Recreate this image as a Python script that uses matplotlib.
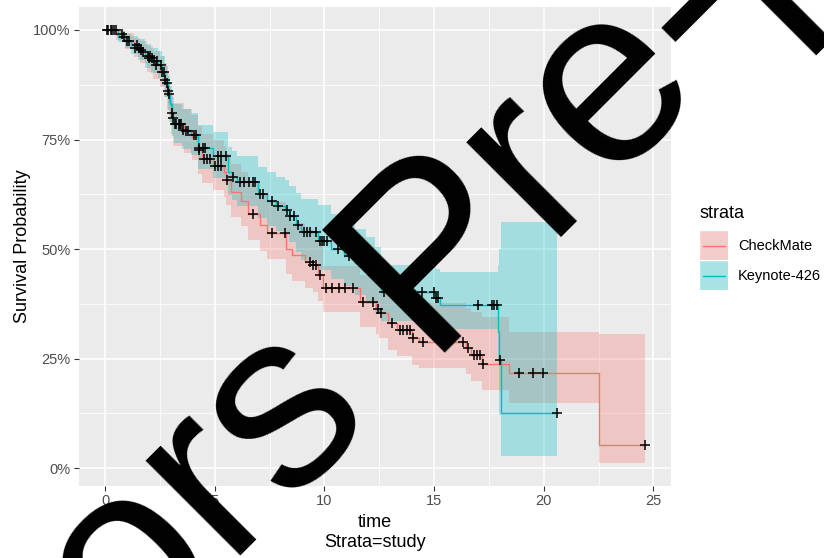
import numpy as np
import matplotlib
matplotlib.use("Agg")
from matplotlib import pyplot as plt
from matplotlib.patches import Rectangle
from matplotlib.lines import Line2D
from matplotlib.ticker import FuncFormatter, MultipleLocator

plt.rcParams['font.family'] = ['Liberation Sans', 'DejaVu Sans']

# Keynote-426 : step times, survival, lower / upper CI
kn_time = [0.0, 0.6, 0.9, 1.2, 1.5, 1.8, 2.1, 2.4, 2.6, 2.75, 2.85, 2.95, 3.05, 3.15,
           3.5, 3.9, 4.25, 4.9, 5.6, 5.8, 6.0, 6.95, 7.4, 7.8, 8.2, 8.4, 8.7, 8.95,
           9.7, 10.3, 10.9, 11.4, 11.9, 12.3, 12.6, 15.1, 15.25, 17.9, 17.97, 18.03]
kn_surv = [1.000, 0.985, 0.975, 0.965, 0.955, 0.940, 0.930, 0.920, 0.905, 0.880, 0.855,
           0.830, 0.800, 0.785, 0.772, 0.760, 0.730, 0.712, 0.675, 0.665, 0.652, 0.625,
           0.610, 0.598, 0.590, 0.575, 0.555, 0.538, 0.518, 0.500, 0.485, 0.468, 0.448,
           0.428, 0.402, 0.388, 0.373, 0.310, 0.247, 0.126]
kn_lower = [1.000, 0.972, 0.958, 0.945, 0.932, 0.914, 0.902, 0.890, 0.873, 0.846, 0.818,
            0.791, 0.758, 0.742, 0.728, 0.714, 0.682, 0.662, 0.623, 0.612, 0.598, 0.570,
            0.553, 0.540, 0.531, 0.515, 0.493, 0.474, 0.452, 0.432, 0.415, 0.396, 0.375,
            0.354, 0.335, 0.325, 0.318, 0.240, 0.120, 0.027]
kn_upper = [1.000, 0.998, 0.992, 0.986, 0.979, 0.968, 0.960, 0.952, 0.940, 0.918, 0.896,
            0.872, 0.846, 0.832, 0.820, 0.810, 0.782, 0.766, 0.732, 0.724, 0.712, 0.688,
            0.675, 0.665, 0.658, 0.645, 0.628, 0.614, 0.600, 0.580, 0.562, 0.545, 0.528,
            0.505, 0.463, 0.455, 0.447, 0.463, 0.500, 0.562]
kn_censor = [0.1, 0.3, 0.5, 0.85, 1.0, 1.45, 1.65, 1.95, 2.05, 2.25, 2.35, 2.55, 2.7, 2.8,
             2.9, 3.1, 3.25, 3.35, 3.45, 3.55, 4.05, 4.15, 4.3, 4.45, 4.55, 5.15, 5.3, 5.5,
             5.85, 6.15, 6.35, 6.55, 6.75, 6.85, 7.05, 7.2, 7.6, 7.9, 8.3, 8.45, 8.6, 8.8,
             9.05, 9.2, 9.35, 9.6, 9.8, 9.9, 10.0, 10.1, 10.6, 11.1, 11.7, 12.1, 12.7,
             14.45, 15.0, 15.1, 15.2, 17.0, 17.65, 17.75, 17.85, 18.0, 20.6]

# CheckMate
cm_time = [0.0, 0.5, 0.9, 1.3, 1.6, 1.9, 2.2, 2.5, 2.7, 2.8, 2.9, 3.0, 3.1, 3.6, 3.95,
           4.25, 4.4, 4.9, 5.4, 5.5, 5.75, 6.2, 6.5, 7.05, 7.4, 8.25, 8.5, 9.1, 9.5, 9.7,
           9.95, 11.6, 12.35, 12.5, 12.9, 13.3, 14.0, 14.3, 16.45, 16.7, 17.2, 18.4, 22.5]
cm_surv = [1.000, 0.990, 0.975, 0.960, 0.950, 0.935, 0.920, 0.905, 0.885, 0.860, 0.835,
           0.810, 0.785, 0.770, 0.755, 0.725, 0.705, 0.690, 0.675, 0.657, 0.630, 0.610,
           0.580, 0.555, 0.537, 0.500, 0.487, 0.470, 0.463, 0.440, 0.410, 0.380, 0.362,
           0.354, 0.330, 0.315, 0.297, 0.288, 0.274, 0.258, 0.237, 0.217, 0.0525]
cm_lower = [1.000, 0.978, 0.957, 0.938, 0.924, 0.905, 0.887, 0.869, 0.846, 0.818, 0.790,
            0.763, 0.736, 0.720, 0.703, 0.671, 0.650, 0.634, 0.618, 0.600, 0.573, 0.552,
            0.521, 0.496, 0.478, 0.442, 0.428, 0.411, 0.403, 0.381, 0.356, 0.322, 0.305,
            0.296, 0.270, 0.255, 0.236, 0.228, 0.215, 0.198, 0.178, 0.148, 0.011]
cm_upper = [1.000, 1.000, 0.993, 0.982, 0.975, 0.964, 0.953, 0.941, 0.924, 0.902, 0.880,
            0.857, 0.834, 0.820, 0.807, 0.780, 0.762, 0.748, 0.735, 0.718, 0.694, 0.676,
            0.648, 0.625, 0.608, 0.572, 0.560, 0.545, 0.538, 0.515, 0.462, 0.440, 0.432,
            0.425, 0.405, 0.392, 0.380, 0.377, 0.365, 0.356, 0.345, 0.310, 0.306]
cm_censor = [0.15, 0.25, 0.4, 0.75, 1.1, 1.35, 1.55, 1.75, 2.0, 2.15, 2.3, 2.6, 2.75, 2.85,
             3.05, 3.2, 3.4, 3.7, 3.8, 4.3, 4.5, 4.65, 4.8, 5.0, 5.15, 5.3, 5.55, 6.75,
             7.6, 8.2, 9.35, 9.5, 9.6, 9.8, 10.05, 10.35, 10.65, 10.95, 11.3, 11.75, 12.2,
             12.45, 12.6, 13.1, 13.45, 13.6, 13.75, 13.9, 14.05, 14.5, 16.3, 16.55, 16.8,
             16.95, 17.1, 17.25, 18.85, 19.5, 19.95, 24.6]

strata = ['CheckMate', 'Keynote-426']
colors = ['#F8766D', '#00BFC4']


def draw_stratum(ax, time, surv, lower, upper, censor, color):
    end = max(censor)
    t = np.array(time + [end])
    s = np.array(surv + [surv[-1]])
    lo = np.array(lower + [lower[-1]])
    hi = np.array(upper + [upper[-1]])
    ax.fill_between(t, lo, hi, step='post', color=color, alpha=0.3, linewidth=0, zorder=2)
    ax.plot(t, s, drawstyle='steps-post', color=color, lw=1.0, zorder=3)
    idx = np.searchsorted(time, censor, side='right') - 1
    ax.plot(censor, np.array(surv)[idx], '+', color='black', ms=7, mew=1.1, zorder=4)


W, H = 824, 558
fig = plt.figure(figsize=(W / 100, H / 100), dpi=100)
ax = fig.add_axes([79 / W, 1 - 486 / H, 592 / W, 479 / H])
ax.set_facecolor('#EBEBEB')

draw_stratum(ax, cm_time, cm_surv, cm_lower, cm_upper, cm_censor, colors[0])
draw_stratum(ax, kn_time, kn_surv, kn_lower, kn_upper, kn_censor, colors[1])

ax.set_xlim(-1.19, 25.8)
ax.set_ylim(-0.041, 1.0525)
ax.xaxis.set_major_locator(MultipleLocator(5))
ax.xaxis.set_minor_locator(MultipleLocator(2.5))
ax.yaxis.set_major_locator(MultipleLocator(0.25))
ax.yaxis.set_minor_locator(MultipleLocator(0.125))
ax.yaxis.set_major_formatter(FuncFormatter(lambda v, p: '%d%%' % round(v * 100)))
ax.grid(which='major', color='white', lw=1.1, zorder=0)
ax.grid(which='minor', color='white', lw=0.55, zorder=0)
ax.set_axisbelow(True)
for sp in ax.spines.values():
    sp.set_visible(False)
ax.tick_params(which='major', length=3.5, width=0.8, color='#333333',
               labelcolor='#4D4D4D', labelsize=10.5, pad=2.5)
ax.tick_params(which='minor', length=0)

ax.set_xlabel('time\nStrata=study', fontsize=13, linespacing=1.25, labelpad=4)
ax.set_ylabel('Survival Probability', fontsize=13, labelpad=1.5)

# legend drawn by hand, ggplot style
fig.text(700 / W, 1 - 213 / H, 'strata', fontsize=13, ha='left', va='center')
for i, (lab, c) in enumerate(zip(strata, colors)):
    top = 231 + i * 30
    fig.add_artist(Rectangle((700 / W, 1 - (top + 29) / H), 28 / W, 29 / H,
                             transform=fig.transFigure, facecolor='#F2F2F2',
                             edgecolor='white', lw=1.0))
    fig.add_artist(Rectangle((700 / W, 1 - (top + 29) / H), 28 / W, 29 / H,
                             transform=fig.transFigure, facecolor=c, alpha=0.3,
                             edgecolor='none'))
    yc = 1 - (top + 14.5) / H
    fig.add_artist(Line2D([703 / W, 725 / W], [yc, yc], transform=fig.transFigure,
                          color=c, lw=1.0))
    fig.text(738 / W, yc, lab, fontsize=10.5, ha='left', va='center')

# watermark
fig.text(424 / W, 1 - 353 / H, 'Pre-proof', fontsize=182, color='black',
         rotation=45, rotation_mode='anchor', ha='left', va='baseline', zorder=20)
fig.text(378 / W, 1 - 418 / H, 'Authors', fontsize=182, color='black',
         rotation=45, rotation_mode='anchor', ha='right', va='baseline', zorder=20)

fig.savefig('out.png', dpi=100)
